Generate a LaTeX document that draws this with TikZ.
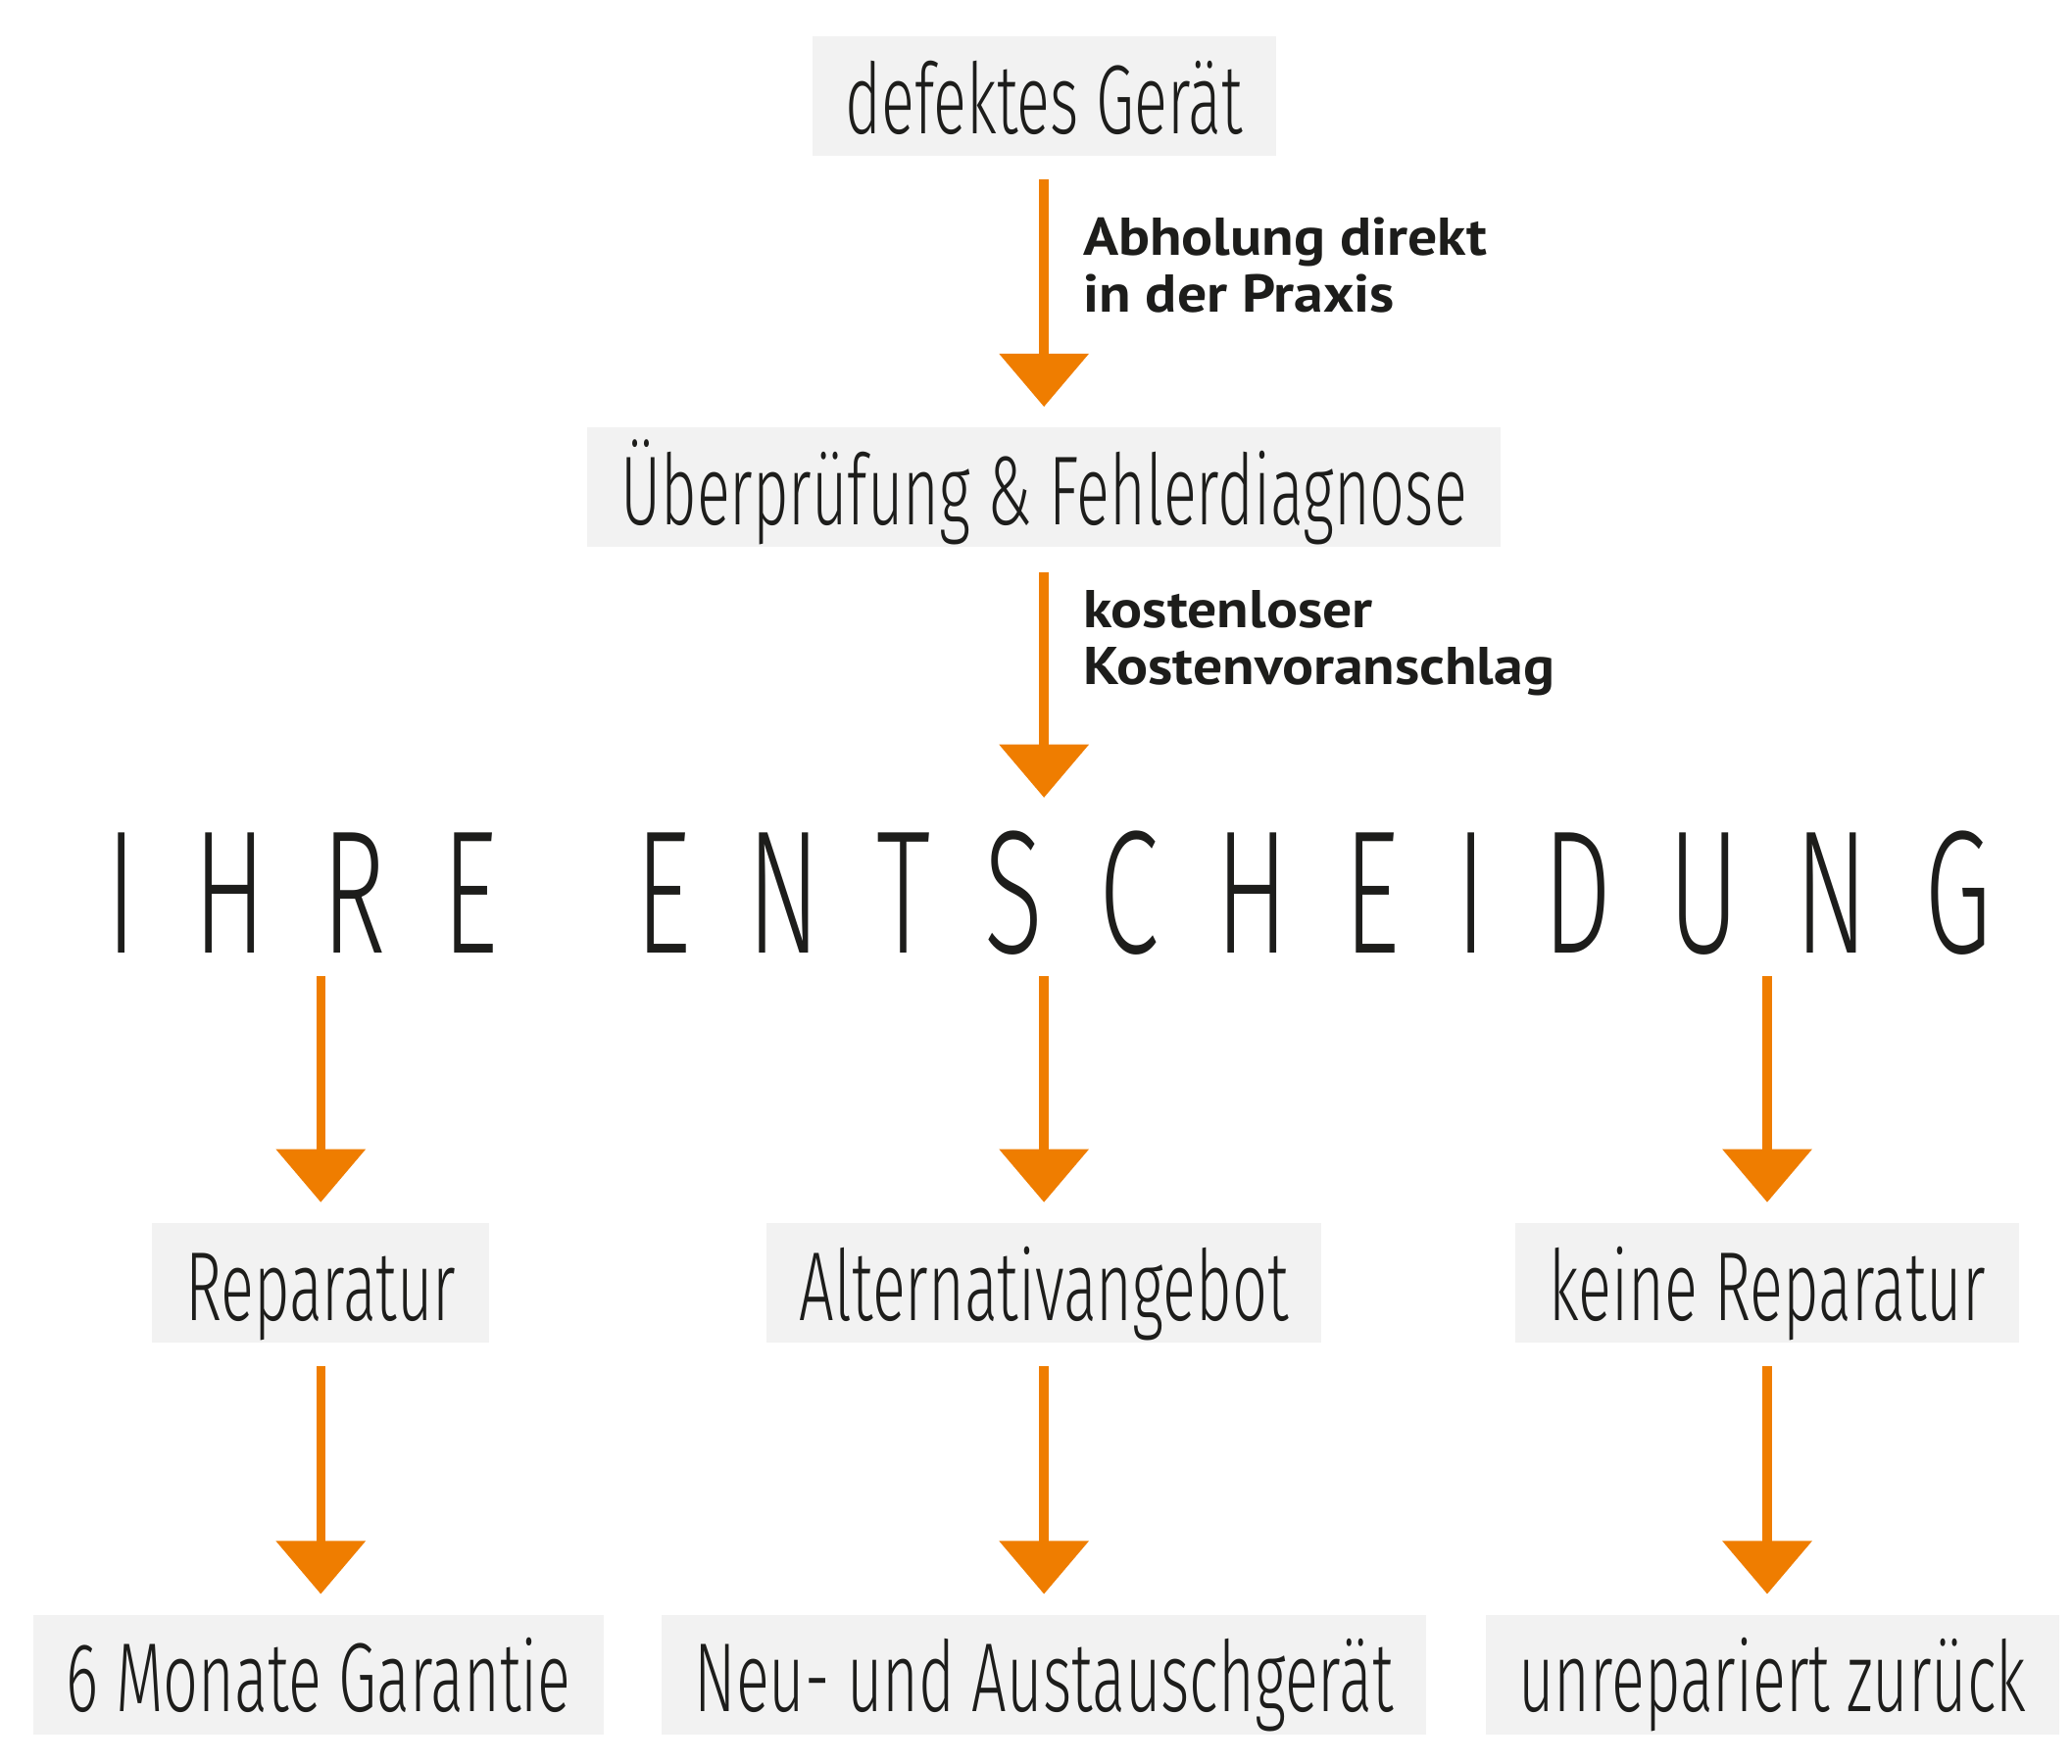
\documentclass[tikz,border=0pt]{standalone}
\usepackage{fontspec}
\usetikzlibrary{arrows.meta}
\newfontfamily\lightfont{Fira Sans Light}[FakeStretch=0.63]
\newfontfamily\headfont{Fira Sans Light}[FakeStretch=0.62,LetterSpace=32]
\newfontfamily\notefont{PT Sans}[FakeStretch=1.1]
\definecolor{arrowor}{RGB}{239,125,0}
\definecolor{boxgray}{RGB}{242,242,242}
\definecolor{ink}{RGB}{29,29,27}
\begin{document}
\begin{tikzpicture}[
  stepbox/.style={fill=boxgray, text=ink, font=\lightfont\fontsize{21}{24}\selectfont,
    inner xsep=0.25cm, inner ysep=0pt, text height=0.73cm, text depth=0.17cm},
  flow/.style={arrowor, line width=2pt, -{Triangle[width=0.66cm,length=0.40cm]}},
  note/.style={anchor=west, inner sep=0pt, xshift=0.26cm, align=left, text=ink,
    font=\notefont\bfseries\fontsize{11.4}{12.2}\selectfont}]
\fill[white] (0,0) rectangle (15.6,-13.28);
\useasboundingbox (0,0) rectangle (15.6,-13.28);
% top of the chain
\node[stepbox] (defect) at (7.86,-0.725) {defektes Gerät};
\node[stepbox] (check) at (7.86,-3.67) {Überprüfung \& Fehlerdiagnose};
\node[text=ink, font=\headfont\fontsize{37.6}{40}\selectfont, inner sep=0pt,
  text height=0.91cm, text depth=0pt, anchor=south] (decision) at (7.9,-7.18) {IHRE \hspace{0.38cm}ENTSCHEIDUNG};
% three choices
\node[stepbox] (repair) at (2.415,-9.66) {Reparatur};
\node[stepbox] (offer) at (7.86,-9.66) {Alternativangebot};
\node[stepbox] (norepair) at (13.305,-9.66) {keine Reparatur};
\node[stepbox] (warranty) at (2.40,-12.61) {6 Monate Garantie};
\node[stepbox] (newdevice) at (7.86,-12.61) {Neu- und Austauschgerät};
\node[stepbox] (returned) at (13.345,-12.61) {unrepariert zurück};
\draw[flow, shorten <=0.17cm, shorten >=0.15cm] (defect.south) -- node[note, pos=0.4] {Abholung direkt\\in der Praxis} (defect.south |- check.north);
\draw[flow, shorten <=0.18cm, shorten >=0.25cm] (check.south) -- node[note, pos=0.335] {kostenloser\\Kostenvoranschlag} (check.south |- decision.north);
\foreach \col in {repair, offer, norepair}
  \draw[flow, shorten <=0.17cm, shorten >=0.15cm] (decision.south -| \col.north) -- (\col.north);
\foreach \upper/\lower in {repair/warranty, offer/newdevice, norepair/returned}
  \draw[flow, shorten <=0.17cm, shorten >=0.15cm] (\upper.south) -- (\upper.south |- \lower.north);
\end{tikzpicture}
\end{document}
